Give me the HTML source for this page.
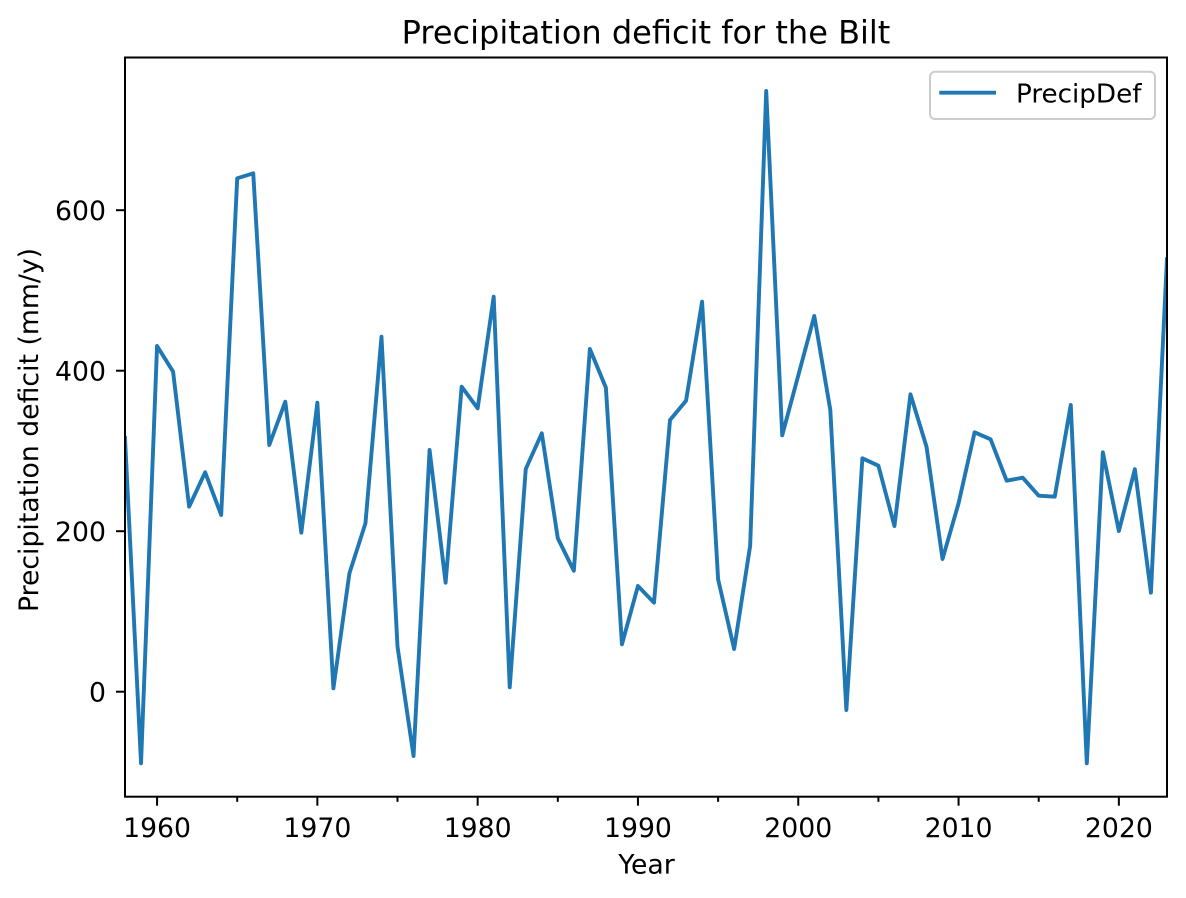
<!DOCTYPE html>
<html>
<head>
<meta charset="utf-8">
<style>
html,body{margin:0;padding:0;background:#fff;}
svg{display:block;}
text{font-family:"DejaVu Sans","Liberation Sans",sans-serif;fill:#000;}
</style>
</head>
<body>
<svg width="1186" height="898" viewBox="0 0 1186 898" xmlns="http://www.w3.org/2000/svg">
<rect x="0" y="0" width="1186" height="898" fill="#fff"/>
<defs>
<clipPath id="ax"><rect x="125" y="57.5" width="1042" height="739.2"/></clipPath>
</defs>
<polyline clip-path="url(#ax)" fill="none" stroke="#1f77b4" stroke-width="3.9" stroke-linejoin="round" stroke-linecap="square"
points="125,438 141.03,763.3 157.06,346 173.09,371.7 189.12,506.7 205.15,472.3 221.18,515 237.21,178.3 253.24,173.3 269.27,445 285.3,401.7 301.33,532.7 317.36,402.7 333.39,688.3 349.42,573.3 365.45,523.3 381.48,336.7 397.51,646.7 413.54,756 429.57,450 445.6,582.7 461.63,386.7 477.66,408.3 493.69,296.7 509.72,687.3 525.75,469 541.78,433.3 557.81,538.3 573.84,570.7 589.87,349 605.9,387.7 621.93,644.3 637.96,586 653.99,602.7 670.02,420 686.05,400.7 702.08,301.7 718.11,579.3 734.14,649 750.17,545.7 766.2,91 782.23,435.3 798.26,375.5 814.29,316 830.32,410 846.35,710 862.38,458.3 878.41,465.7 894.44,526 910.47,394.3 926.5,446.7 942.53,559 958.56,503.3 974.59,432.3 990.62,439.3 1006.65,480.7 1022.68,477.7 1038.71,495.7 1054.74,496.7 1070.77,405 1086.8,763.3 1102.83,452.3 1118.86,531 1134.89,469.3 1150.92,592.7 1166.95,259.3"/>
<rect x="125" y="57.5" width="1042" height="739.2" fill="none" stroke="#000" stroke-width="2"/>
<g stroke="#000" stroke-width="2">
<line x1="157.06" y1="796.7" x2="157.06" y2="805.7"/>
<line x1="317.36" y1="796.7" x2="317.36" y2="805.7"/>
<line x1="477.66" y1="796.7" x2="477.66" y2="805.7"/>
<line x1="637.96" y1="796.7" x2="637.96" y2="805.7"/>
<line x1="798.26" y1="796.7" x2="798.26" y2="805.7"/>
<line x1="958.56" y1="796.7" x2="958.56" y2="805.7"/>
<line x1="1118.86" y1="796.7" x2="1118.86" y2="805.7"/>
<line x1="237.21" y1="796.7" x2="237.21" y2="801.8"/>
<line x1="397.51" y1="796.7" x2="397.51" y2="801.8"/>
<line x1="557.81" y1="796.7" x2="557.81" y2="801.8"/>
<line x1="718.11" y1="796.7" x2="718.11" y2="801.8"/>
<line x1="878.41" y1="796.7" x2="878.41" y2="801.8"/>
<line x1="1038.71" y1="796.7" x2="1038.71" y2="801.8"/>
<line x1="116" y1="691.7" x2="125" y2="691.7"/>
<line x1="116" y1="531.2" x2="125" y2="531.2"/>
<line x1="116" y1="370.7" x2="125" y2="370.7"/>
<line x1="116" y1="210.2" x2="125" y2="210.2"/>
</g>
<g font-size="26.7" text-anchor="middle">
<text x="157.06" y="837">1960</text>
<text x="317.36" y="837">1970</text>
<text x="477.66" y="837">1980</text>
<text x="637.96" y="837">1990</text>
<text x="798.26" y="837">2000</text>
<text x="958.56" y="837">2010</text>
<text x="1118.86" y="837">2020</text>
</g>
<g font-size="26.7" text-anchor="end">
<text x="106" y="701.5">0</text>
<text x="106" y="541">200</text>
<text x="106" y="380.5">400</text>
<text x="106" y="220">600</text>
</g>
<text x="646.5" y="873.5" font-size="26.7" text-anchor="middle">Year</text>
<text transform="translate(38,430) rotate(-90)" x="0" y="0" font-size="26.7" text-anchor="middle">Precipitation deficit (mm/y)</text>
<text x="646" y="43.5" font-size="32" text-anchor="middle">Precipitation deficit for the Bilt</text>
<rect x="930" y="71.7" width="225" height="47.3" rx="5" ry="5" fill="#fff" fill-opacity="0.8" stroke="#cccccc" stroke-width="2"/>
<line x1="939.3" y1="92.7" x2="996" y2="92.7" stroke="#1f77b4" stroke-width="3.9"/>
<text x="1016" y="102.5" font-size="26.2">PrecipDef</text>
</svg>
</body>
</html>
